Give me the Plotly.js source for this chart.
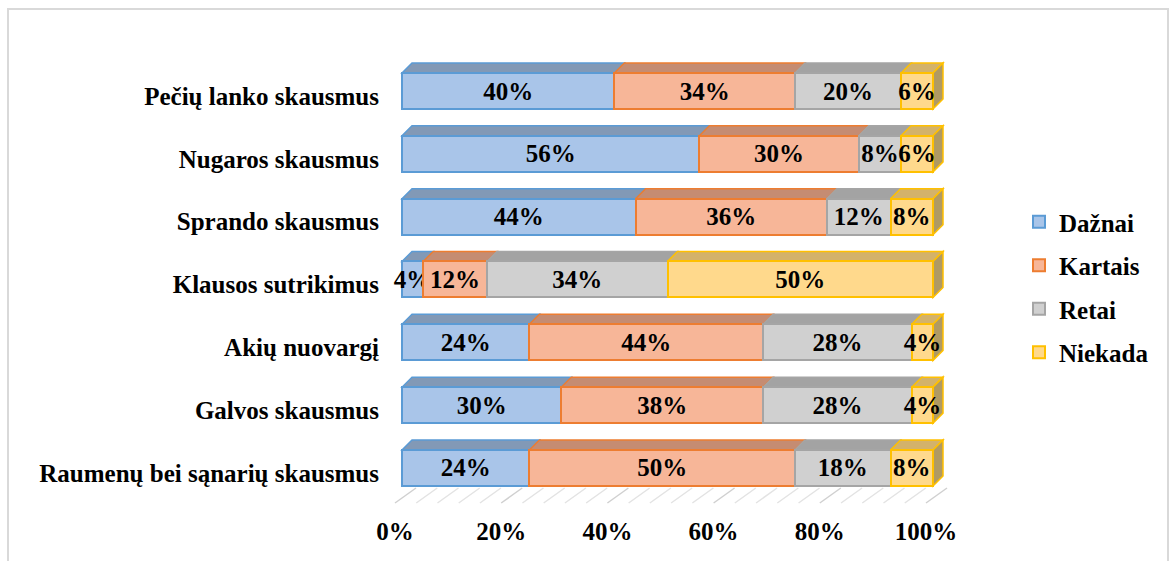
<!DOCTYPE html>
<html>
<head>
<meta charset="utf-8">
<script src="https://cdn.plot.ly/plotly-3.0.1.min.js"></script>
<style>
  html, body { margin: 0; padding: 0; background: #ffffff; }
  #chart { width: 1169px; height: 561px; }
</style>
</head>
<body>
<div id="chart"></div>
<script>
// Complaint categories, listed from the top row to the bottom row
const categories = [
  'Pečių lanko skausmus',
  'Nugaros skausmus',
  'Sprando skausmus',
  'Klausos sutrikimus',
  'Akių nuovargį',
  'Galvos skausmus',
  'Raumenų bei sąnarių skausmus'
];

// Share of answers per category (%)
const seriesNames = ['Dažnai', 'Kartais', 'Retai', 'Niekada'];
const daznai  = [40, 56, 44, 4, 24, 30, 24];
const kartais = [34, 30, 36, 12, 44, 38, 50];
const retai   = [20, 8, 12, 34, 28, 28, 18];
const niekada = [6, 6, 8, 50, 4, 4, 8];

// Percentage axis ticks
const tickValues = [0, 20, 40, 60, 80, 100];
const tickLabels = ['0%', '20%', '40%', '60%', '80%', '100%'];

// ---- styling -------------------------------------------------------------
const FONT = 'Liberation Serif, Times New Roman, serif';
const FONT_SIZE = 25;
const frontColors = ['#a9c5e9', '#f7b698', '#d0d0d0', '#ffd98c'];
const edgeColors  = ['#5b9bd5', '#ed7d31', '#a5a5a5', '#ffc000'];
const topColors   = ['#8299b6', '#c58c72', '#a3a3a3', '#d3b26a'];
const sideColor   = '#b09a63';
const boldFont = { family: FONT, size: FONT_SIZE, color: '#000000', weight: 'bold' };

// ---- page geometry (pixels) ---------------------------------------------
const W = 1169, H = 561;
const fx = px => px / W;
const fy = px => 1 - px / H;

const PX = 5.31;          // pixels per percentage point
const BAR0 = 402;         // left edge of the bar fronts
const WALL0 = 416;        // 0 % on the back wall
const FLOOR0 = 395;       // 0 % on the front edge of the floor
const FLOOR_FRONT = 503, FLOOR_BACK = 488, WALL_TOP = 45;
const ROW0 = 91, ROWSTEP = 62.83;  // centre of the first row, row spacing
const PLOT_TOP = 30, PLOT_BOTTOM = 520;
const BW = 0.573;         // bar thickness in category units
const DX = 10 / PX;       // bar depth, horizontal part (data units)
const DY = 10 / ROWSTEP;  // bar depth, vertical part (category units)

const seriesValues = [daznai, kartais, retai, niekada];

// ---- bar fronts ----------------------------------------------------------
const traces = seriesValues.map((vals, s) => ({
  type: 'bar',
  orientation: 'h',
  name: seriesNames[s],
  legendgroup: seriesNames[s],
  x: vals,
  y: categories,
  xaxis: 'x2',
  yaxis: 'y2',
  width: BW,
  marker: { color: frontColors[s], line: { color: edgeColors[s], width: 2 } },
  text: vals.map(v => v + '%'),
  textposition: 'inside',
  insidetextanchor: 'middle',
  textangle: 0,
  constraintext: 'none',
  textfont: boldFont,
  hoverinfo: 'skip'
}));

// ---- 3-D tops and end caps of the bars ----------------------------------
const shapes = [];
categories.forEach((cat, i) => {
  const yt = i - BW / 2;
  const yb = i + BW / 2;
  let start = 0;
  seriesValues.forEach((vals, s) => {
    const end = start + vals[i];
    shapes.push({
      type: 'path', xref: 'x2', yref: 'y2', layer: 'below',
      path: `M${start},${yt} L${end},${yt} L${end + DX},${yt - DY} L${start + DX},${yt - DY} Z`,
      fillcolor: topColors[s],
      line: { color: edgeColors[s], width: 1.5 }
    });
    start = end;
  });
  shapes.push({
    type: 'path', xref: 'x2', yref: 'y2', layer: 'below',
    path: `M${start},${yt} L${start + DX},${yt - DY} L${start + DX},${yb - DY} L${start},${yb} Z`,
    fillcolor: sideColor,
    line: { color: edgeColors[3], width: 1.5 }
  });
});

// ---- floor: diagonal grid lines -----------------------------------------
for (let p = 0; p <= 100; p += 4) {
  shapes.push({
    type: 'line', xref: 'x3', yref: 'paper', layer: 'below',
    xsizemode: 'pixel', xanchor: p, x0: 0, x1: WALL0 - FLOOR0,
    y0: fy(FLOOR_FRONT), y1: fy(FLOOR_BACK),
    line: { color: p % 20 === 0 ? '#d0d0d0' : '#e3e3e3', width: 1.5 }
  });
}

// ---- outer frame ---------------------------------------------------------
shapes.push({
  type: 'rect', xref: 'paper', yref: 'paper', layer: 'below',
  x0: fx(8), x1: fx(1168), y0: -0.05, y1: fy(9),
  line: { color: '#d9d9d9', width: 2 }, fillcolor: 'rgba(0,0,0,0)'
});

// category axis: value v sits at pixel ROW0 + v*ROWSTEP
const yTopVal = (PLOT_TOP - ROW0) / ROWSTEP;
const yBotVal = (PLOT_BOTTOM - ROW0) / ROWSTEP;

const layout = {
  width: W, height: H,
  margin: { l: 0, r: 0, t: 0, b: 0 },
  paper_bgcolor: '#ffffff',
  plot_bgcolor: 'rgba(0,0,0,0)',
  barmode: 'stack',
  bargap: 0,
  font: { family: FONT, color: '#000000' },
  // back wall with its grid
  xaxis: {
    domain: [fx(WALL0), fx(WALL0 + 100 * PX)], range: [0, 100], anchor: 'y',
    tick0: 0, dtick: 20, showgrid: true, gridcolor: '#cfcfcf', gridwidth: 2,
    minor: { dtick: 4, showgrid: true, gridcolor: '#e6e6e6', gridwidth: 1.5 },
    showticklabels: false, ticks: '', zeroline: false, showline: false, fixedrange: true
  },
  yaxis: {
    domain: [fy(FLOOR_BACK), fy(WALL_TOP)], range: [0, 1], anchor: 'x',
    showgrid: false, showticklabels: false, ticks: '', zeroline: false, showline: false, fixedrange: true
  },
  // bar fronts
  xaxis2: {
    domain: [fx(380), fx(965)], range: [(380 - BAR0) / PX, (965 - BAR0) / PX], anchor: 'y2',
    showgrid: false, showticklabels: false, ticks: '', zeroline: false, showline: false, fixedrange: true
  },
  yaxis2: {
    domain: [fy(PLOT_BOTTOM), fy(PLOT_TOP)], type: 'category', categoryorder: 'array',
    categoryarray: categories, range: [yBotVal, yTopVal], anchor: 'x2',
    showgrid: false, zeroline: false, showline: false, ticks: '',
    ticklabelshift: -5,
    tickfont: boldFont, fixedrange: true
  },
  // percentage labels along the front edge of the floor
  xaxis3: {
    domain: [fx(FLOOR0 - 2 * PX), fx(FLOOR0 + 105 * PX)], range: [-2, 105], anchor: 'y2',
    tickmode: 'array', tickvals: tickValues, ticktext: tickLabels,
    showgrid: false, zeroline: false, showline: false, ticks: '',
    ticklabelstandoff: -6,
    tickfont: boldFont, fixedrange: true
  },
  legend: {
    x: fx(1019), y: fy(199), xanchor: 'left', yanchor: 'top',
    traceorder: 'grouped', tracegroupgap: 8,
    font: boldFont,
    bgcolor: 'rgba(0,0,0,0)'
  },
  showlegend: true,
  shapes: shapes
};

Plotly.newPlot('chart', traces, layout, { staticPlot: true, displayModeBar: false });
</script>
</body>
</html>
